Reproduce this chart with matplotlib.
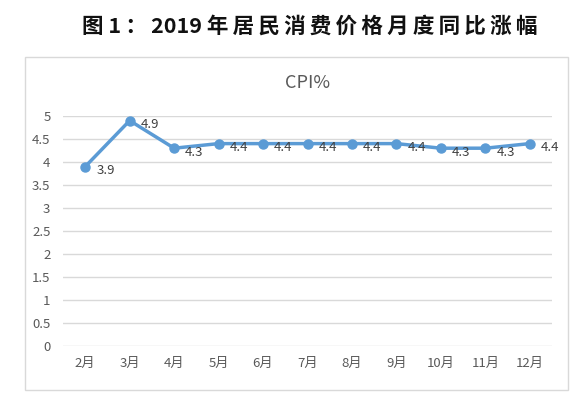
import matplotlib
matplotlib.use("Agg")
import matplotlib.pyplot as plt
from matplotlib.patches import Rectangle

plt.rcParams['font.family'] = ['Noto Sans CJK SC', 'DejaVu Sans']

months = ["2月", "3月", "4月", "5月", "6月", "7月", "8月", "9月", "10月", "11月", "12月"]
cpi = [3.9, 4.9, 4.3, 4.4, 4.4, 4.4, 4.4, 4.4, 4.3, 4.3, 4.4]
yticks = [0, 0.5, 1, 1.5, 2, 2.5, 3, 3.5, 4, 4.5, 5]
ytick_labels = ["0", "0.5", "1", "1.5", "2", "2.5", "3", "3.5", "4", "4.5", "5"]
title = "图 1：2019 年居民消费价格月度同比涨幅"

W, H = 584, 393
fig = plt.figure(figsize=(W / 100, H / 100), dpi=100)

# outer chart box
fig.patches.append(Rectangle((25 / W, 1 - 390 / H), (568 - 25) / W, (390 - 57) / H,
                             transform=fig.transFigure, fill=False,
                             edgecolor="#D9D9D9", linewidth=1.0))

spaced = ""
for i, ch in enumerate(title):
    spaced += ch
    if i < len(title) - 1 and ch != " " and title[i + 1] != " " and not (ch.isdigit() and title[i + 1].isdigit()):
        spaced += "\u2009"
fig.text(0.53, 1 - 26 / H, spaced,
         ha="center", va="center", fontsize=15.5, fontweight="bold", color="#111111")

left, right = 63 / W, 552 / W
top, bottom = 1 - 116 / H, 1 - 346 / H
ax = fig.add_axes([left, bottom, right - left, top - bottom])

x = list(range(len(months)))
ax.plot(x, cpi, color="#5B9BD5", linewidth=2.5, marker="o", markersize=6.5, zorder=3)
for xi, v in zip(x, cpi):
    ax.annotate(f"{v}", (xi, v), xytext=(8, -3), textcoords="offset points",
                ha="left", va="center", fontsize=9.5, color="#404040")

ax.set_xlim(-0.5, len(months) - 0.5)
ax.set_ylim(0, 5)
ax.set_yticks(yticks)
ax.set_yticklabels(ytick_labels)
ax.set_xticks(x)
ax.set_xticklabels(months)
ax.tick_params(axis="both", length=0, labelsize=9.5, colors="#595959")
ax.tick_params(axis="x", pad=8)
ax.tick_params(axis="y", pad=9)
ax.grid(axis="y", color="#D9D9D9", linewidth=1.0)
ax.set_axisbelow(True)
for s in ax.spines.values():
    s.set_visible(False)

fig.text((left + right) / 2, 1 - 83 / H, "CPI%", ha="center", va="center",
         fontsize=13, color="#595959")

fig.savefig("out.png", dpi=100)
